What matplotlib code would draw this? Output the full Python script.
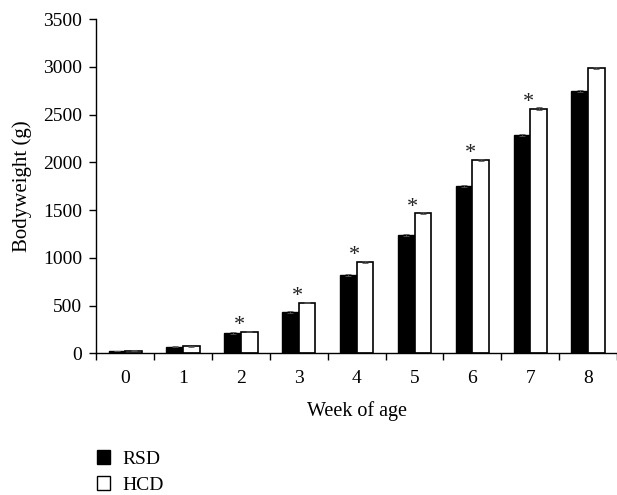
import matplotlib
matplotlib.use("Agg")
import matplotlib.pyplot as plt
import numpy as np
from matplotlib.patches import Patch

weeks = ["0", "1", "2", "3", "4", "5", "6", "7", "8"]
rsd = [25, 68, 212, 432, 820, 1238, 1752, 2285, 2748]
hcd = [28, 72, 228, 530, 955, 1465, 2022, 2562, 2990]
rsd_err = [4, 5, 6, 8, 10, 10, 12, 12, 12]
hcd_err = [4, 5, 6, 8, 10, 10, 12, 12, 12]
significant = [False, False, True, True, True, True, True, True, False]
yticks = [0, 500, 1000, 1500, 2000, 2500, 3000, 3500]

plt.rcParams['font.family'] = ['Liberation Serif', 'DejaVu Serif']
plt.rcParams['font.size'] = 14

W, H = 617, 495
fig = plt.figure(figsize=(W / 100, H / 100), dpi=100)
left_px, right_px = 96.3, 617
bottom_px, top_px = 353.3, 19
ax = fig.add_axes([left_px / W, 1 - bottom_px / H,
                   (right_px - left_px) / W, (bottom_px - top_px) / H])

x = np.arange(len(weeks))
bw = 0.287
ax.bar(x - bw / 2, rsd, width=bw, color='black', edgecolor='black', linewidth=1.0,
       yerr=rsd_err, error_kw=dict(ecolor='#555555', elinewidth=0.6, capsize=2.5, capthick=0.6))
ax.bar(x + bw / 2, hcd, width=bw, color='white', edgecolor='black', linewidth=1.2,
       yerr=hcd_err, error_kw=dict(ecolor='#555555', elinewidth=0.6, capsize=2.5, capthick=0.6))

for xi, h, e, s in zip(x, hcd, hcd_err, significant):
    if s:
        ax.annotate('*', xy=(xi - 0.03, h + e), xytext=(0, -3), textcoords='offset points',
                    ha='center', va='bottom', fontsize=16, color='#222222')

ax.set_xlim(-0.5, -0.5 + (right_px - left_px) / 58.1)
ax.set_ylim(0, 3500)
ax.set_yticks(yticks)
ax.set_yticklabels([str(v) for v in yticks])

ax.set_xticks(np.arange(-0.5, len(weeks), 1.0))
ax.set_xticklabels([])
ax.set_xticks(x, minor=True)
ax.set_xticklabels(weeks, minor=True)
ax.tick_params(axis='x', which='major', direction='out', length=5, width=1)
ax.tick_params(axis='x', which='minor', length=0, pad=12)
ax.tick_params(axis='y', direction='out', length=5, width=1, pad=5)

for sp in ['top', 'right']:
    ax.spines[sp].set_visible(False)
for sp in ['left', 'bottom']:
    ax.spines[sp].set_linewidth(1.0)

ax.set_xlabel('Week of age', labelpad=10, fontsize=14.5)
ax.set_ylabel('Bodyweight (g)', labelpad=8, fontsize=15)

handles = [Patch(facecolor='black', edgecolor='black', label='RSD'),
           Patch(facecolor='white', edgecolor='black', label='HCD')]
fig.legend(handles=handles, loc='upper left',
           bbox_to_anchor=(96.7 / W, 1 - 450 / H),
           frameon=False, handlelength=0.7, handleheight=0.7,
           handletextpad=0.6, labelspacing=0.45, borderaxespad=0, borderpad=0, fontsize=14)

fig.savefig('out.png', dpi=100)
